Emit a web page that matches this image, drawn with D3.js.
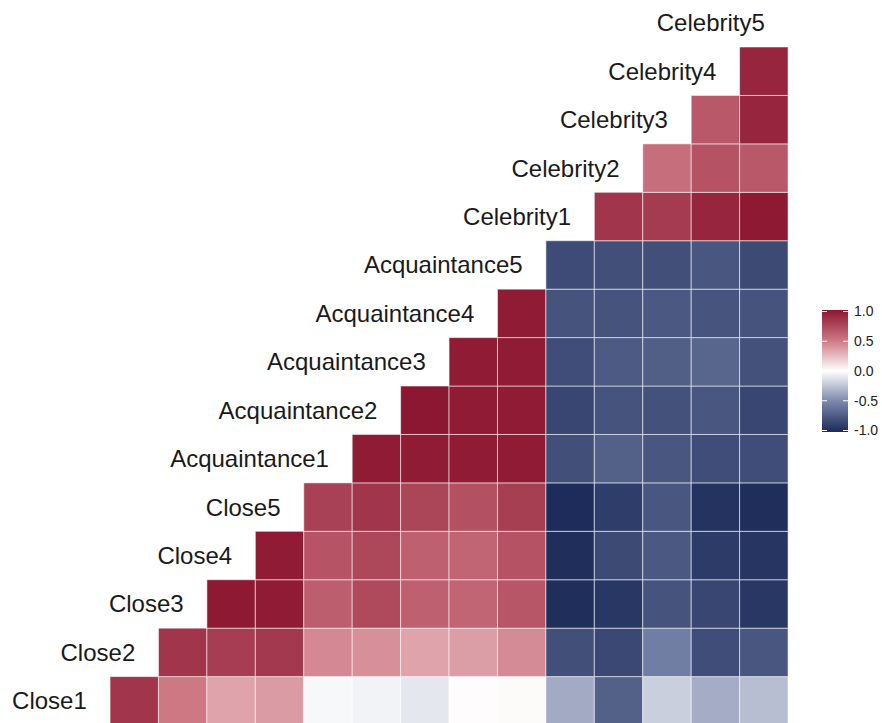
<!DOCTYPE html>
<html>
<head>
<meta charset="utf-8">
<script src="https://cdn.jsdelivr.net/npm/d3@7"></script>
<style>
  body { margin: 0; background: #ffffff; }
  svg { display: block; }
  text { font-family: "Liberation Sans", Arial, Helvetica, sans-serif; }
</style>
</head>
<body>
<svg id="chart" width="882" height="723"></svg>
<script>
// Variables, in matrix order
const variables = [
  "Close1", "Close2", "Close3", "Close4", "Close5",
  "Acquaintance1", "Acquaintance2", "Acquaintance3", "Acquaintance4", "Acquaintance5",
  "Celebrity1", "Celebrity2", "Celebrity3", "Celebrity4", "Celebrity5"
];

// Correlation of each variable with every variable that follows it
const rClose1 = [0.84, 0.50, 0.34, 0.37, -0.03, -0.05, -0.10, 0.01, 0.02, -0.35, -0.71, -0.20, -0.34, -0.27];
const rClose2 = [0.84, 0.80, 0.82, 0.44, 0.41, 0.34, 0.36, 0.43, -0.80, -0.84, -0.55, -0.81, -0.76];
const rClose3 = [0.98, 0.97, 0.63, 0.73, 0.62, 0.60, 0.67, -0.98, -0.93, -0.78, -0.85, -0.93];
const rClose4 = [0.97, 0.68, 0.75, 0.62, 0.60, 0.69, -0.98, -0.83, -0.75, -0.91, -0.94];
const rClose5 = [0.78, 0.84, 0.76, 0.70, 0.79, -0.99, -0.90, -0.76, -0.95, -0.98];
const rAcquaintance1 = [0.97, 0.97, 0.97, 0.97, -0.80, -0.71, -0.76, -0.81, -0.81];
const rAcquaintance2 = [0.99, 0.97, 0.97, -0.85, -0.78, -0.79, -0.76, -0.85];
const rAcquaintance3 = [0.97, 0.97, -0.81, -0.74, -0.72, -0.68, -0.79];
const rAcquaintance4 = [0.97, -0.78, -0.78, -0.75, -0.77, -0.78];
const rAcquaintance5 = [-0.82, -0.80, -0.80, -0.76, -0.83];
const rCelebrity1 = [0.84, 0.81, 0.92, 0.98];
const rCelebrity2 = [0.55, 0.69, 0.66];
const rCelebrity3 = [0.66, 0.92];
const rCelebrity4 = [0.92];

// Colour bar stops and ticks
const colorStops = [-1, -0.5, 0, 0.5, 1];
const colorRange = ["#1B2A58", "#7B87AB", "#FFFFFF", "#CE7884", "#8B1530"];
const legendTicks = [-1.0, -0.5, 0.0, 0.5, 1.0];

const rows = [rClose1, rClose2, rClose3, rClose4, rClose5,
  rAcquaintance1, rAcquaintance2, rAcquaintance3, rAcquaintance4, rAcquaintance5,
  rCelebrity1, rCelebrity2, rCelebrity3, rCelebrity4];

// Flatten into cells: row variable i, column variable j (j > i)
const cells = [];
rows.forEach((vals, i) => {
  vals.forEach((v, k) => {
    cells.push({ row: variables[i], col: variables[i + 1 + k], value: v });
  });
});

const svg = d3.select("#chart");

const cell = 48.43;
const x0 = 61.6;
const yTop = -1.43;

const x = d3.scaleBand()
  .domain(variables)
  .range([x0, x0 + cell * variables.length]);

const y = d3.scaleBand()
  .domain(variables.slice().reverse())
  .range([yTop, yTop + cell * variables.length]);

const color = d3.scaleLinear()
  .domain(colorStops)
  .range(colorRange)
  .interpolate(d3.interpolateRgb);

// Tiles
svg.append("g")
  .selectAll("rect")
  .data(cells)
  .join("rect")
  .attr("x", d => x(d.col))
  .attr("y", d => y(d.row))
  .attr("width", x.bandwidth())
  .attr("height", y.bandwidth())
  .attr("fill", d => color(d.value))
  .attr("stroke", "rgba(255,255,255,0.55)")
  .attr("stroke-width", 1);

// Diagonal labels
svg.append("g")
  .selectAll("text")
  .data(variables)
  .join("text")
  .attr("x", d => x(d) + x.bandwidth() / 2 + 1)
  .attr("y", d => y(d) + y.bandwidth() / 2)
  .attr("text-anchor", "end")
  .attr("dominant-baseline", "central")
  .attr("font-size", 24)
  .attr("fill", "#1a1a1a")
  .text(d => d);

// Colour bar legend
const legX = 822, legW = 26, legY0 = 310, legY1 = 432;
const legScale = d3.scaleLinear().domain([-1, 1]).range([legY1 - 1.5, legY0 + 1.5]);

const grad = svg.append("defs").append("linearGradient")
  .attr("id", "legendGradient")
  .attr("x1", 0).attr("y1", 1).attr("x2", 0).attr("y2", 0);
d3.range(0, 1.0001, 0.05).forEach(t => {
  grad.append("stop")
    .attr("offset", t)
    .attr("stop-color", color(-1 + 2 * t));
});

svg.append("rect")
  .attr("x", legX).attr("y", legY0)
  .attr("width", legW).attr("height", legY1 - legY0)
  .attr("fill", "url(#legendGradient)");

const tickG = svg.append("g");
tickG.selectAll("line.l")
  .data(legendTicks)
  .join("line")
  .attr("x1", legX).attr("x2", legX + 5)
  .attr("y1", d => legScale(d)).attr("y2", d => legScale(d))
  .attr("stroke", "#ffffff").attr("stroke-width", 1);
tickG.selectAll("line.r")
  .data(legendTicks)
  .join("line")
  .attr("x1", legX + legW - 5).attr("x2", legX + legW)
  .attr("y1", d => legScale(d)).attr("y2", d => legScale(d))
  .attr("stroke", "#ffffff").attr("stroke-width", 1);

const axis = d3.axisRight(legScale)
  .tickValues(legendTicks)
  .tickSize(0)
  .tickPadding(6)
  .tickFormat(d => d.toFixed(1));

svg.append("g")
  .attr("transform", `translate(${legX + legW},0)`)
  .call(axis)
  .call(g => g.select(".domain").remove())
  .call(g => g.selectAll("text")
    .attr("font-size", 14)
    .attr("fill", "#222")
    .style("font-family", "'Liberation Sans', Arial, sans-serif"));
</script>
</body>
</html>
